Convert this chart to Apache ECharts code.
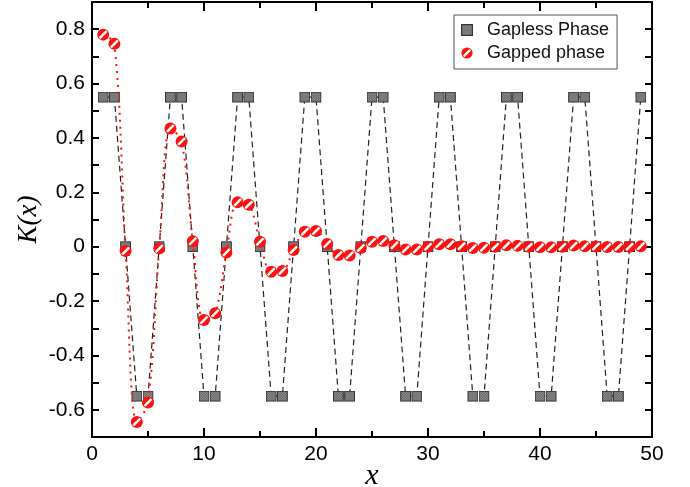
<!DOCTYPE html>
<html>
<head>
<meta charset="utf-8">
<script src="https://cdn.jsdelivr.net/npm/echarts@6/dist/echarts.min.js"></script>
<style>
html, body { margin: 0; padding: 0; background: #fff; }
#chart { width: 690px; height: 487px; }
</style>
</head>
<body>
<div id="chart"></div>
<script>
// x positions 1..49
var xs = [1,2,3,4,5,6,7,8,9,10,11,12,13,14,15,16,17,18,19,20,21,22,23,24,25,
	26,27,28,29,30,31,32,33,34,35,36,37,38,39,40,41,42,43,44,45,46,47,48,49];

var gapless = [0.55,0.55,0,-0.55,-0.55,0, 0.55,0.55,0,-0.55,-0.55,0,
	0.55,0.55,0,-0.55,-0.55,0, 0.55,0.55,0,-0.55,-0.55,0,
	0.55,0.55,0,-0.55,-0.55,0, 0.55,0.55,0,-0.55,-0.55,0,
	0.55,0.55,0,-0.55,-0.55,0, 0.55,0.55,0,-0.55,-0.55,0, 0.55];

var gapped = [0.78,0.746,-0.016,-0.645,-0.573,-0.007, 0.435,0.387,0.02,-0.27,-0.245,-0.021,
	0.163,0.154,0.018,-0.092,-0.089,-0.012, 0.055,0.058,0.01,-0.031,-0.032,-0.005,
	0.018,0.021,0.005,-0.01,-0.01,0, 0.009,0.009,0.002,-0.005,-0.004,0,
	0.005,0.003,0,-0.002,-0.002,0, 0.004,0.002,0.001,-0.001,-0.001,0, 0.002];

var seriesNames = ['Gapless Phase', 'Gapped phase'];

function svgUri(svg) {
	return 'image://data:image/svg+xml;charset=utf-8,' + encodeURIComponent(svg);
}

// textured grey square
var squareIcon = svgUri(
	"<svg xmlns='http://www.w3.org/2000/svg' width='20' height='20' viewBox='0 0 20 20'>" +
	"<defs><pattern id='p' width='3' height='3' patternUnits='userSpaceOnUse'>" +
	"<rect width='3' height='3' fill='#9a9a9a'/><rect width='1.5' height='1.5' fill='#5a5a5a'/>" +
	"<rect x='1.5' y='1.5' width='1.5' height='1.5' fill='#5a5a5a'/></pattern></defs>" +
	"<rect x='1' y='1' width='18' height='18' fill='url(#p)' stroke='#333' stroke-width='2'/></svg>");

// red circle with white slash
var circleIcon = svgUri(
	"<svg xmlns='http://www.w3.org/2000/svg' width='26' height='26' viewBox='0 0 26 26'>" +
	"<defs><clipPath id='c'><circle cx='13' cy='13' r='10'/></clipPath></defs>" +
	"<circle cx='13' cy='13' r='12' fill='#ff1010'/>" +
	"<g clip-path='url(#c)'><line x1='3' y1='23' x2='23' y2='3' stroke='#fff' stroke-width='5'/></g></svg>");

function pairs(vals) {
	var out = [];
	for (var i = 0; i < xs.length; i++) out.push([xs[i], vals[i]]);
	return out;
}

var font = 'Liberation Sans, Arial, Helvetica, sans-serif';
var serif = 'Liberation Serif, Times New Roman, serif';

var chart = echarts.init(document.getElementById('chart'));
chart.setOption({
	animation: false,
	grid: { left: 92, right: 38, top: 2, bottom: 50, outerBoundsMode: 'none', containLabel: false },
	legend: {
		orient: 'vertical',
		left: 454, top: 15,
		padding: [6, 8, 7, 7],
		itemGap: 5,
		itemWidth: 12, itemHeight: 12,
		borderColor: '#555', borderWidth: 1,
		textStyle: { fontFamily: font, fontSize: 18, color: '#111', padding: [0, 0, 0, 9] },
		data: [
			{ name: seriesNames[0], icon: squareIcon },
			{ name: seriesNames[1], icon: circleIcon }
		]
	},
	xAxis: [{
		type: 'value', min: 0, max: 50, interval: 10,
		name: 'x', nameLocation: 'middle', nameGap: 24, nameMoveOverlap: false,
		nameTextStyle: { fontFamily: serif, fontStyle: 'italic', fontSize: 30, color: '#000' },
		axisLine: { onZero: false, lineStyle: { color: '#000', width: 2 } },
		axisTick: { inside: true, length: 9, lineStyle: { width: 2 } },
		minorTick: { show: true, splitNumber: 2, length: 6, lineStyle: { color: '#000', width: 2 } },
		axisLabel: { fontFamily: font, fontSize: 21, color: '#000', margin: 7 },
		splitLine: { show: false }
	}, {
		type: 'value', position: 'top', min: 0, max: 50, interval: 10,
		axisLine: { onZero: false, lineStyle: { color: '#000', width: 2 } },
		axisTick: { inside: true, length: 9, lineStyle: { width: 2 } },
		minorTick: { show: true, splitNumber: 2, length: 6, lineStyle: { color: '#000', width: 2 } },
		axisLabel: { show: false },
		splitLine: { show: false }
	}],
	yAxis: [{
		type: 'value', min: -0.7, max: 0.9, interval: 0.1,
		name: 'K(x)', nameLocation: 'middle', nameGap: 50, nameMoveOverlap: false,
		nameTextStyle: { fontFamily: serif, fontStyle: 'italic', fontSize: 27, color: '#000' },
		axisLine: { onZero: false, lineStyle: { color: '#000', width: 2 } },
		axisTick: { inside: true, length: 7, lineStyle: { width: 2 } },
		axisLabel: {
			fontFamily: font, fontSize: 21, color: '#000', margin: 7,
			formatter: function(v) {
				var r = Math.round(v * 10);
				if (r % 2 !== 0 || r > 8) return '';
				return r === 0 ? '0' : (r / 10).toFixed(1);
			}
		},
		splitLine: { show: false }
	}, {
		type: 'value', position: 'right', min: -0.7, max: 0.9, interval: 0.1,
		axisLine: { show: true, onZero: false, lineStyle: { color: '#000', width: 2 } },
		axisTick: { show: true, inside: true, length: 7, lineStyle: { width: 2 } },
		axisLabel: { show: false },
		splitLine: { show: false }
	}],
	series: [{
		name: seriesNames[0], type: 'line',
		data: pairs(gapless),
		symbol: squareIcon, symbolSize: 11,
		lineStyle: { color: '#222', width: 1.2, type: [6, 4] },
		itemStyle: { color: '#777' },
		z: 2
	}, {
		name: seriesNames[1], type: 'line',
		data: pairs(gapped),
		smooth: 0.35,
		symbol: circleIcon, symbolSize: 13,
		lineStyle: { color: '#ff1010', width: 2, type: [2, 5] },
		itemStyle: { color: '#ff1010' },
		z: 3
	}]
});
</script>
</body>
</html>
